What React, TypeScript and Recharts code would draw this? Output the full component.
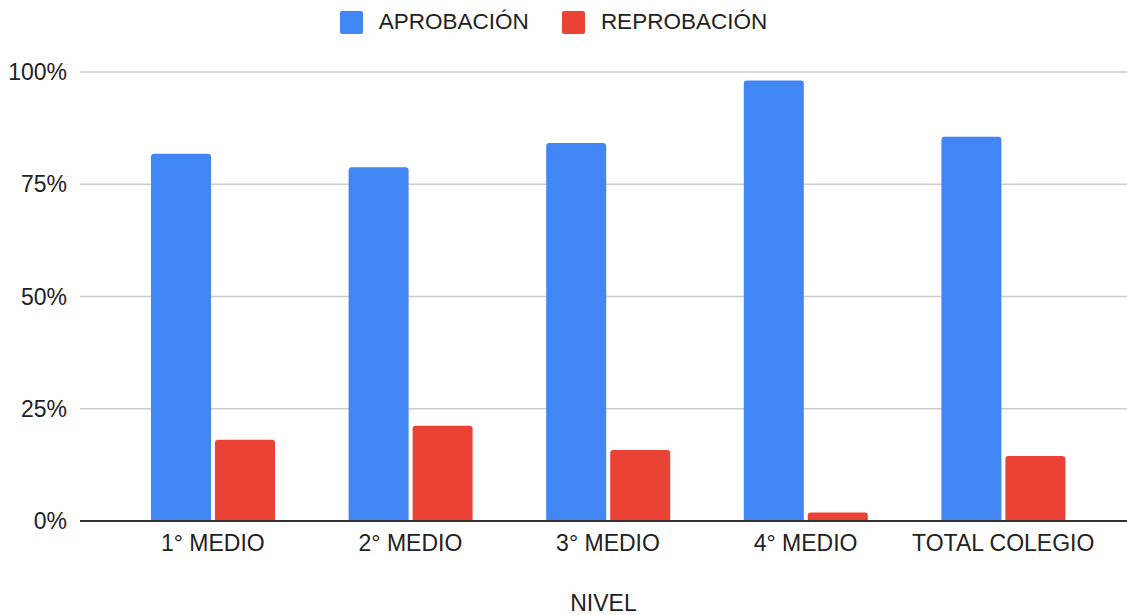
import { BarChart, Bar, XAxis, YAxis, CartesianGrid, Legend } from 'recharts';

const categories = ['1° MEDIO', '2° MEDIO', '3° MEDIO', '4° MEDIO', 'TOTAL COLEGIO'];
const aprobacion = [0.818, 0.788, 0.842, 0.981, 0.856];
const reprobacion = [0.181, 0.212, 0.158, 0.019, 0.145];
const yTicks = [0, 0.25, 0.5, 0.75, 1];

const series = [
  { key: 'aprobacion', name: 'APROBACIÓN', color: '#4285f4' },
  { key: 'reprobacion', name: 'REPROBACIÓN', color: '#ea4335' },
];

const data = categories.map((nivel, i) => ({
  nivel,
  aprobacion: aprobacion[i],
  reprobacion: reprobacion[i],
}));

const FONT = 'Arial, "Liberation Sans", sans-serif';

function TopLegend() {
  return (
    <div
      style={{
        height: 44,
        display: 'flex',
        justifyContent: 'center',
        alignItems: 'center',
        fontFamily: FONT,
        fontSize: 22.5,
        color: '#222',
      }}
    >
      {series.map((s, i) => (
        <div key={s.key} style={{ display: 'flex', alignItems: 'center', marginLeft: i ? 33 : 0 }}>
          <span
            style={{
              width: 23,
              height: 23,
              background: s.color,
              borderRadius: 2,
              display: 'inline-block',
              marginRight: 16,
            }}
          />
          <span>{s.name}</span>
        </div>
      ))}
    </div>
  );
}

export default function App() {
  return (
    <div style={{ position: 'absolute', left: 0, top: 0, background: '#fff' }}>
      <BarChart
        width={1127}
        height={615}
        data={data}
        margin={{ top: 28, right: 0, bottom: 0, left: 0 }}
        barSize={60}
        barGap={4}
      >
        <Legend verticalAlign="top" content={<TopLegend />} wrapperStyle={{ top: 0, left: -10, width: 1127 }} />
        <CartesianGrid vertical={false} stroke="#cccccc" strokeWidth={1.5} />
        <XAxis
          dataKey="nivel"
          height={94}
          padding={{ left: 34, right: 25 }}
          tickLine={false}
          tickSize={0}
          tickMargin={14}
          axisLine={{ stroke: '#333', strokeWidth: 2 }}
          tick={{ fill: '#222', fontSize: 23, fontFamily: FONT }}
          label={{ value: 'NIVEL', position: 'insideBottom', offset: 4, fill: '#222', fontSize: 23, fontFamily: FONT }}
        />
        <YAxis
          width={80}
          domain={[0, 1]}
          ticks={yTicks}
          tickFormatter={(v: number) => `${Math.round(v * 100)}%`}
          axisLine={false}
          tickLine={false}
          tickSize={0}
          tickMargin={13}
          tick={{ fill: '#222', fontSize: 23, fontFamily: FONT }}
        />
        {series.map((s) => (
          <Bar
            key={s.key}
            dataKey={s.key}
            name={s.name}
            fill={s.color}
            radius={[3, 3, 0, 0]}
            isAnimationActive={false}
          />
        ))}
      </BarChart>
    </div>
  );
}
